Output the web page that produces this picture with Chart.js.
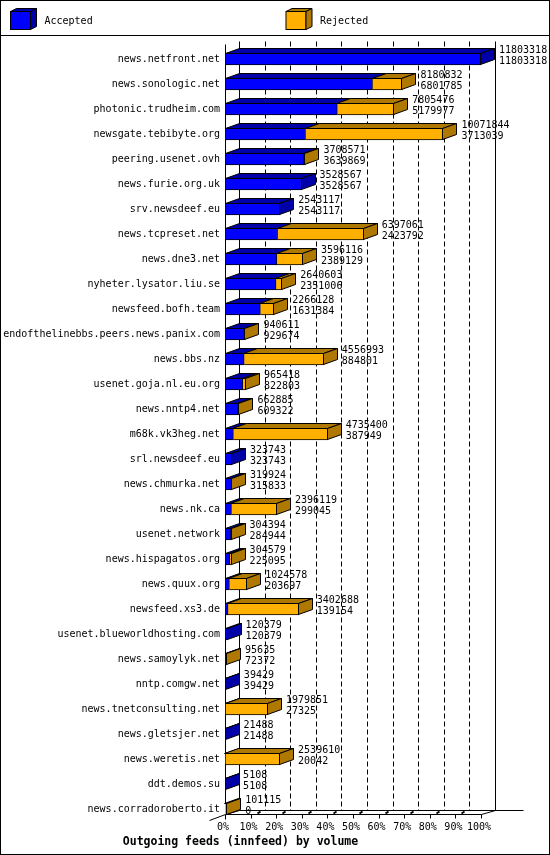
<!DOCTYPE html>
<html><head><meta charset="utf-8">
<script src="https://cdn.jsdelivr.net/npm/chart.js@4/dist/chart.umd.min.js"></script>
<style>html,body{margin:0;padding:0;background:#fff}canvas{display:block}</style>
</head><body>
<canvas id="c" width="550" height="855"></canvas>
<script>
// ---- data ----
const categories = [
  'news.netfront.net','news.sonologic.net','photonic.trudheim.com','newsgate.tebibyte.org',
  'peering.usenet.ovh','news.furie.org.uk','srv.newsdeef.eu','news.tcpreset.net',
  'news.dne3.net','nyheter.lysator.liu.se','newsfeed.bofh.team','endofthelinebbs.peers.news.panix.com',
  'news.bbs.nz','usenet.goja.nl.eu.org','news.nntp4.net','m68k.vk3heg.net',
  'srl.newsdeef.eu','news.chmurka.net','news.nk.ca','usenet.network',
  'news.hispagatos.org','news.quux.org','newsfeed.xs3.de','usenet.blueworldhosting.com',
  'news.samoylyk.net','nntp.comgw.net','news.tnetconsulting.net','news.gletsjer.net',
  'news.weretis.net','ddt.demos.su','news.corradoroberto.it'
];
const offered = [
  11803318,8180832,7805476,10071844,3708571,3528567,2543117,6397061,
  3596116,2640603,2266128,940611,4556993,965418,662885,4735400,
  323743,319924,2396119,304394,304579,1024578,3402688,120379,
  95635,39429,1979851,21488,2539610,5108,101115
];
const accepted = [
  11803318,6801785,5179977,3713039,3639869,3528567,2543117,2423792,
  2389129,2351006,1631384,929674,884801,822803,609322,387949,
  323743,315833,299045,284944,225095,203697,139154,120379,
  72372,39429,27325,21488,20042,5108,0
];
const rejected = [
  0,1379047,2625499,6358805,68702,0,0,3973269,
  1206987,289597,634744,10937,3672192,142615,53563,4347451,
  0,4091,2097074,19450,79484,820881,3263534,0,
  23263,0,1952526,0,2519568,0,101115
];
const xTickPercents = [0,10,20,30,40,50,60,70,80,90,100];
const legendLabels = ['Accepted','Rejected'];
const titleText = 'Outgoing feeds (innfeed) by volume';

// ---- style ----
const FONT = "'DejaVu Sans Mono','Liberation Mono',monospace";
const COL = { acc:'#0000FF', accDark:'#0000A8', rej:'#FFB000', rejDark:'#AF7800' };
const DX = 14, DY = 5;
const scaleMax = Math.max(...offered);

function poly(ctx, pts, fill){
  ctx.beginPath();
  ctx.moveTo(pts[0][0], pts[0][1]);
  for (let k=1;k<pts.length;k++) ctx.lineTo(pts[k][0], pts[k][1]);
  ctx.closePath();
  ctx.fillStyle = fill; ctx.fill();
  ctx.stroke();
}

const pseudo3d = {
  id:'pseudo3d',
  beforeDraw(chart){
    const ctx = chart.ctx;
    ctx.save(); ctx.fillStyle='#fff'; ctx.fillRect(0,0,chart.width,chart.height); ctx.restore();
  },
  beforeDatasetsDraw(chart){
    const ctx = chart.ctx, xs = chart.scales.x;
    const data0 = chart.getDatasetMeta(0).data;
    const first = data0[0], last = data0[data0.length-1];
    const topY = Math.round(first.y - first.height/2) - 11.5;
    const yf = Math.round(last.y + last.height/2) - 0.5;
    const yb = yf - DY + 1;
    const x0 = Math.round(xs.getPixelForValue(0)) + 0.5;
    const x100 = Math.round(xs.getPixelForValue(scaleMax)) + 0.5;
    ctx.save();
    ctx.strokeStyle = '#000'; ctx.lineWidth = 1;
    // back grid lines
    xTickPercents.forEach(p => {
      const xb = Math.round(xs.getPixelForValue(scaleMax*p/100) + DX) + 0.5;
      ctx.setLineDash((p===0||p===100) ? [] : [5,3]);
      ctx.beginPath(); ctx.moveTo(xb, topY); ctx.lineTo(xb, yb); ctx.stroke();
    });
    ctx.setLineDash([]);
    // front left axis
    ctx.beginPath(); ctx.moveTo(x0, topY+3); ctx.lineTo(x0, yf+5); ctx.stroke();
    // floor
    ctx.beginPath();
    ctx.moveTo(x0-16, yf+6); ctx.lineTo(x0, yf); ctx.lineTo(x0+DX, yb);
    ctx.moveTo(x0, yf); ctx.lineTo(x100, yf); ctx.lineTo(x100+DX, yb);
    ctx.moveTo(x0+DX, yb); ctx.lineTo(x100+DX+28, yb);
    ctx.stroke();
    // ticks
    xTickPercents.forEach(p => {
      const xf = Math.round(xs.getPixelForValue(scaleMax*p/100)) + 0.5;
      ctx.beginPath(); ctx.moveTo(xf, yf); ctx.lineTo(xf, yf+4); ctx.stroke();
      if (p>0 && p<100){
        ctx.save(); ctx.lineWidth = 2;
        ctx.beginPath(); ctx.moveTo(xf+6, yf-1); ctx.lineTo(xf+9, yf-3); ctx.stroke();
        ctx.restore();
      }
    });
    ctx.restore();
  },
  afterDatasetsDraw(chart){
    const ctx = chart.ctx, xs = chart.scales.x;
    const m0 = chart.getDatasetMeta(0).data, m1 = chart.getDatasetMeta(1).data;
    ctx.save();
    ctx.strokeStyle = '#000'; ctx.lineWidth = 1;
    for (let i=0;i<categories.length;i++){
      const segs = [
        {el:m0[i], v:accepted[i], c:COL.accDark},
        {el:m1[i], v:rejected[i], c:COL.rejDark}
      ];
      const lastIdx = rejected[i] > 0 ? 1 : 0;
      const el = m0[i];
      const t = Math.round(el.y - el.height/2) + 0.5;
      const b = Math.round(el.y + el.height/2) - 0.5;
      segs.forEach((s, k) => {
        if (s.v <= 0) return;
        const L = (k===0) ? Math.round(Math.min(s.el.base, s.el.x)) + 0.5 : Math.round(Math.min(s.el.base, s.el.x)) - 0.5;
        const R = Math.max(Math.round(Math.max(s.el.base, s.el.x)) - 0.5, L);
        poly(ctx, [[L,t],[R,t],[R+DX,t-DY],[L+DX,t-DY]], s.c);
      });
      const s = segs[lastIdx];
      const R = Math.max(Math.round(Math.max(s.el.base, s.el.x)) - 0.5, Math.round(xs.getPixelForValue(0)) + 0.5);
      poly(ctx, [[R,t],[R+DX,t-DY],[R+DX,b-DY],[R,b]], s.c);
      // value labels
      const xe = xs.getPixelForValue(offered[i]) + DX + 4;
      ctx.fillStyle = '#000';
      ctx.font = '10px ' + FONT;
      ctx.textAlign = 'left'; ctx.textBaseline = 'middle';
      ctx.fillText(String(offered[i]), xe, el.y - 9);
      ctx.fillText(String(accepted[i]), xe, el.y + 2);
    }
    ctx.restore();
  },
  afterDraw(chart){
    const ctx = chart.ctx;
    ctx.save();
    ctx.strokeStyle = '#000'; ctx.lineWidth = 1;
    ctx.strokeRect(0.5, 0.5, chart.width-1, chart.height-1);
    ctx.beginPath(); ctx.moveTo(0, 35.5); ctx.lineTo(chart.width, 35.5); ctx.stroke();
    const fronts = [COL.acc, COL.rej], darks = [COL.accDark, COL.rejDark];
    chart.data.datasets.forEach((ds, k) => {
      const x = 10.5 + k*275.5;
      ctx.fillStyle = fronts[k];
      ctx.fillRect(x, 11.5, 20, 18); ctx.strokeRect(x, 11.5, 20, 18);
      poly(ctx, [[x,11.5],[x+20,11.5],[x+26,8.5],[x+6,8.5]], darks[k]);
      poly(ctx, [[x+20,11.5],[x+26,8.5],[x+26,26.5],[x+20,29.5]], darks[k]);
      ctx.fillStyle = '#000';
      ctx.font = '10px ' + FONT;
      ctx.textAlign = 'left'; ctx.textBaseline = 'middle';
      ctx.fillText(ds.label, x + 34, 21);
    });
    ctx.restore();
  }
};

new Chart(document.getElementById('c'), {
  type: 'bar',
  data: {
    labels: categories,
    datasets: [
      { label: legendLabels[0], data: accepted, backgroundColor: COL.acc, borderColor:'#000', borderWidth:1, borderSkipped:false, barThickness:12 },
      { label: legendLabels[1], data: rejected, backgroundColor: COL.rej, borderColor:'#000', borderWidth:1, borderSkipped:'start', barThickness:12 }
    ]
  },
  options: {
    indexAxis: 'y',
    responsive: false,
    animation: false,
    layout: { padding: { top: 46.5, right: 69, bottom: 0, left: 0 } },
    scales: {
      x: {
        type: 'linear', stacked: true, min: 0, max: scaleMax,
        grid: { display: false, drawTicks: false }, border: { display: false },
        afterBuildTicks: s => { s.ticks = xTickPercents.map(p => ({ value: scaleMax*p/100 })); },
        afterFit: s => { s.height = 14; },
        ticks: { autoSkip: false, maxRotation: 0, padding: 0, labelOffset: -2, color: '#000',
          font: { family: FONT, size: 10 },
          callback: v => Math.round(v/scaleMax*100) + '%' }
      },
      y: {
        type: 'category', stacked: true, offset: true,
        grid: { display: false, drawTicks: false }, border: { display: false },
        afterFit: s => { s.width = 225; },
        ticks: { autoSkip: false, padding: 5, color: '#000', font: { family: FONT, size: 10 } }
      }
    },
    plugins: {
      legend: { display: false },
      tooltip: { enabled: false },
      title: { display: true, text: titleText, position: 'bottom', color: '#000',
        font: { family: FONT, size: 11.5, weight: 'bold' }, padding: { top: 0, bottom: 5.7 } }
    }
  },
  plugins: [pseudo3d]
});
</script>
</body></html>
